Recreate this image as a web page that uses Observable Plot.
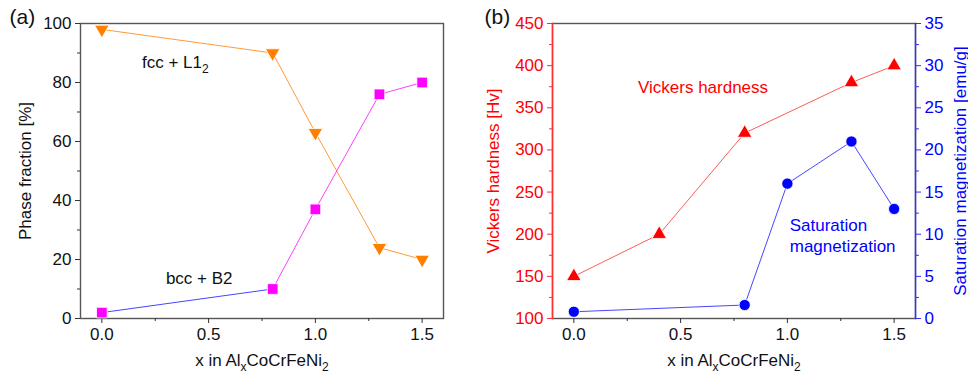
<!DOCTYPE html>
<html><head><meta charset="utf-8">
<script src="https://cdn.jsdelivr.net/npm/d3@7"></script>
<script src="https://cdn.jsdelivr.net/npm/@observablehq/plot@0.6"></script>
<style>
body{margin:0;background:#fff;font-family:"Liberation Sans",Arial,sans-serif}
#wrap{display:flex;width:968px;height:373px}
#wrap svg{display:block}
</style></head><body><div id="wrap"></div>
<script>
// Panel (a): phase fraction
const fccX = [0, 0.8, 1.0, 1.3, 1.5];
const fccY = [98, 90, 63, 24, 20];
const bccX = [0, 0.8, 1.0, 1.3, 1.5];
const bccY = [2, 10, 37, 76, 80];
// Panel (b): hardness and magnetization
const hvX = [0, 0.4, 0.8, 1.3, 1.5];
const hvY = [150, 200, 320, 380, 400];
const msX = [0, 0.8, 1.0, 1.3, 1.5];
const msY = [0.8, 1.6, 16, 21, 13];
// ticks
const xTicks = [0, 0.5, 1.0, 1.5];
const xMinor = [0.25, 0.75, 1.25];
const phaseTicks = [0, 20, 40, 60, 80, 100];
const phaseMinor = [10, 30, 50, 70, 90];
const hvTicks = [100, 150, 200, 250, 300, 350, 400, 450];
const hvMinor = [125, 175, 225, 275, 325, 375, 425];
const msTicks = [0, 5, 10, 15, 20, 25, 30, 35];
const msMinor = [2.5, 7.5, 12.5, 17.5, 22.5, 27.5, 32.5];
// labels
const xLabel = "x in Al_xCoCrFeNi_2";
const phaseLabel = "Phase fraction [%]";
const hvLabel = "Vickers hardness [Hv]";
const msLabel = "Saturation magnetization [emu/g]";

const FONT = "Liberation Sans, Arial, sans-serif";
const fx = d3.format(".1f");
const pts = (xs, ys) => xs.map((x, i) => ({x, y: ys[i]}));
// magnetization drawn on the hardness scale: 0..35 -> 100..450
const ms2hv = v => 100 + v * 10;
const hv2ms = v => (v - 100) / 10;

function subscriptify(svg) {
  svg.querySelectorAll("text").forEach(t => {
    if (t.querySelector("tspan")) return;
    const s = t.textContent;
    if (!s.includes("_")) return;
    t.textContent = "";
    const parts = s.split(/_(\w)/);
    parts.forEach((p, i) => {
      if (!p) return;
      const ts = document.createElementNS("http://www.w3.org/2000/svg", "tspan");
      ts.textContent = p;
      if (i % 2 === 1) {
        ts.setAttribute("font-size", "12px");
        ts.setAttribute("dy", "5");
      } else if (i > 0) {
        ts.setAttribute("dy", "-5");
      }
      t.appendChild(ts);
    });
  });
}

const xCommon = {domain: [-0.1, 1.6]};
const yTitle = {rotate: -90, textAnchor: "middle", lineAnchor: "middle", fontSize: 17};

const xAxes = [
  Plot.axisX(xTicks, {tickSize: 5, tickPadding: 4, tickFormat: fx, label: null, fill: "#111", stroke: "#333", fontSize: 17}),
  Plot.axisX(xMinor, {tickSize: 3, tickFormat: () => "", label: null, stroke: "#333"}),
  Plot.text([xLabel], {frameAnchor: "bottom", textAnchor: "middle", lineAnchor: "middle", dy: 42, fontSize: 17, fill: "#111"})
];

const dataA = {
  fcc: pts(fccX, fccY),
  bcc: pts(bccX, bccY)
};

const plotA = Plot.plot({
  width: 484, height: 373,
  marginLeft: 80, marginRight: 41, marginTop: 23, marginBottom: 55,
  style: {fontFamily: FONT, fontSize: "17px", background: "white", overflow: "visible"},
  x: xCommon,
  y: {domain: [0, 100]},
  marks: [
    Plot.frame({stroke: "#555", strokeWidth: 1.4}),
    ...xAxes,
    Plot.axisY(phaseTicks, {tickSize: 5, tickPadding: 4, label: null, fill: "#111", stroke: "#333", fontSize: 17}),
    Plot.axisY(phaseMinor, {tickSize: 3, tickFormat: () => "", label: null, stroke: "#333"}),
    Plot.text([phaseLabel], {...yTitle, frameAnchor: "left", dx: -55, fill: "#111"}),
    Plot.line(dataA.fcc, {x: "x", y: "y", stroke: "#ff9a3a", strokeWidth: 1}),
    Plot.line(dataA.bcc.slice(0, 2), {x: "x", y: "y", stroke: "#4646ff", strokeWidth: 1}),
    Plot.line(dataA.bcc.slice(1), {x: "x", y: "y", stroke: "#ff40ff", strokeWidth: 1}),
    Plot.dot(dataA.fcc, {x: "x", y: "y", symbol: "triangle", rotate: 180, r: 5.4, fill: "#ff7f00", stroke: "white", strokeWidth: 0.8}),
    Plot.dot(dataA.bcc, {x: "x", y: "y", symbol: "square", r: 6, fill: "#ff00ff", stroke: "white", strokeWidth: 0.8}),
    Plot.text(["fcc + L1_2"], {x: 0.344, y: 86.8, fill: "#111", fontSize: 17}),
    Plot.text(["bcc + B2"], {x: 0.456, y: 13.5, fill: "#111", fontSize: 17}),
    Plot.text(["(a)"], {frameAnchor: "top-left", dx: -71, dy: -14, fontSize: 21, fill: "#111", textAnchor: "start"})
  ]
});

const dataB = {
  hv: pts(hvX, hvY),
  ms: pts(msX, msY.map(ms2hv))
};

const plotB = Plot.plot({
  width: 484, height: 373,
  marginLeft: 68, marginRight: 53, marginTop: 23, marginBottom: 55,
  style: {fontFamily: FONT, fontSize: "17px", background: "white", overflow: "visible"},
  x: xCommon,
  y: {domain: [100, 450]},
  marks: [
    Plot.frame({stroke: "#555", strokeWidth: 1.4}),
    Plot.frame({anchor: "left", stroke: "#ff3030", strokeWidth: 1.4}),
    Plot.frame({anchor: "right", stroke: "#3030ff", strokeWidth: 1.4}),
    ...xAxes,
    Plot.axisY(hvTicks, {tickSize: 5, tickPadding: 4, label: null, fill: "#ff0000", stroke: "#ff3030", fontSize: 17}),
    Plot.axisY(hvMinor, {tickSize: 3, tickFormat: () => "", label: null, stroke: "#ff3030"}),
    Plot.text([hvLabel], {...yTitle, frameAnchor: "left", dx: -59, fill: "#ff0000"}),
    Plot.axisY(msTicks.map(ms2hv), {anchor: "right", tickSize: 5, tickPadding: 4, tickFormat: d => String(hv2ms(d)),
      label: null, fill: "#0000ff", stroke: "#3030ff", fontSize: 17}),
    Plot.axisY(msMinor.map(ms2hv), {anchor: "right", tickSize: 3, tickFormat: () => "", label: null, stroke: "#3030ff"}),
    Plot.text([msLabel], {...yTitle, frameAnchor: "right", dx: 45, fill: "#0000ff"}),
    Plot.line(dataB.hv, {x: "x", y: "y", stroke: "#ff5a5a", strokeWidth: 1}),
    Plot.line(dataB.ms, {x: "x", y: "y", stroke: "#4646ff", strokeWidth: 1}),
    Plot.dot(dataB.hv, {x: "x", y: "y", symbol: "triangle", r: 5.4, fill: "#ff0000", stroke: "white", strokeWidth: 0.8}),
    Plot.dot(dataB.ms, {x: "x", y: "y", symbol: "circle", r: 5.6, fill: "#0000ff", stroke: "white", strokeWidth: 0.8}),
    Plot.text(["Vickers hardness"], {x: 0.605, y: 373.7, fill: "#ff0000", fontSize: 17}),
    Plot.text(["Saturation\nmagnetization"], {x: 1.011, y: 199, fill: "#0000ff", fontSize: 17, textAnchor: "start", lineHeight: 1.25}),
    Plot.text(["(b)"], {frameAnchor: "top-left", dx: -68, dy: -14, fontSize: 21, fill: "#111", textAnchor: "start"})
  ]
});

const wrap = document.getElementById("wrap");
wrap.appendChild(plotA);
wrap.appendChild(plotB);
subscriptify(plotA);
subscriptify(plotB);
</script>
</body></html>
